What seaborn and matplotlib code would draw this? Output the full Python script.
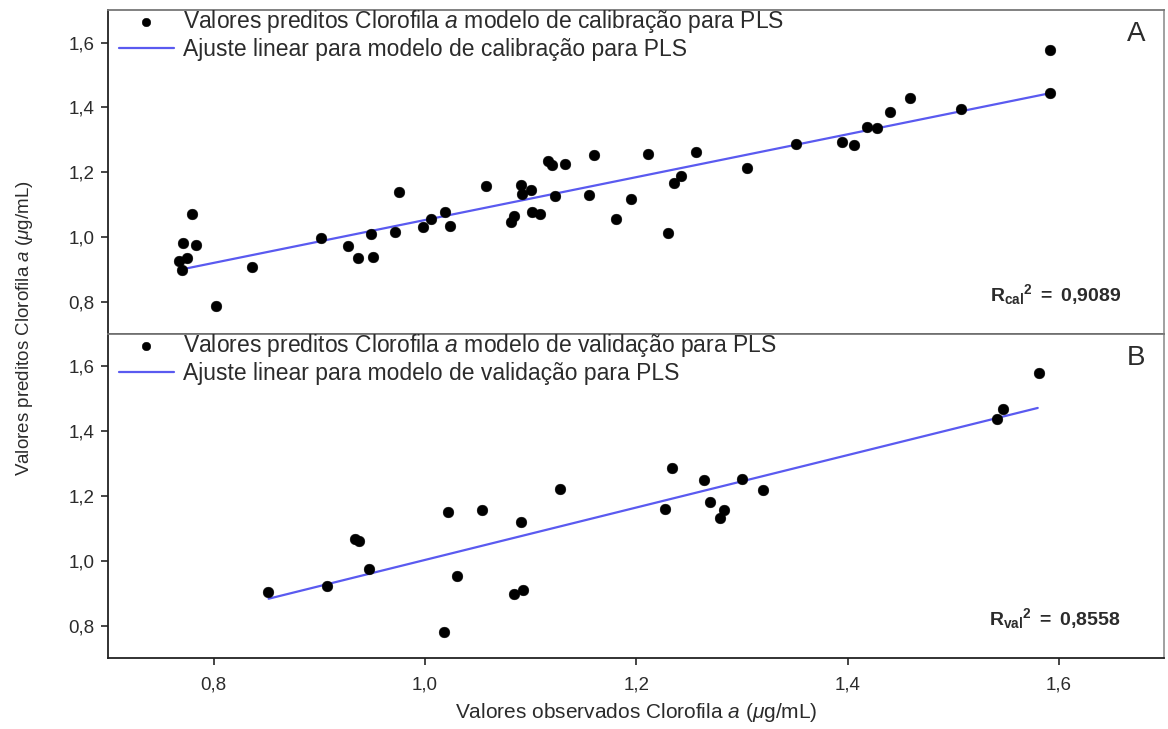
import matplotlib
matplotlib.use("Agg")
import matplotlib.pyplot as plt
from matplotlib.ticker import FuncFormatter
import seaborn as sns
import pandas as pd

# ---- data ----
cal_obs = [0.767, 0.770, 0.775, 0.771, 0.783, 0.779, 0.836, 0.802, 0.902, 0.927,
           0.937, 0.951, 0.949, 0.975, 0.972, 0.998, 1.006, 1.019, 1.024, 1.058,
           1.081, 1.084, 1.101, 1.109, 1.091, 1.092, 1.100, 1.123, 1.116, 1.120,
           1.133, 1.160, 1.155, 1.181, 1.195, 1.211, 1.230, 1.236, 1.242, 1.257,
           1.305, 1.351, 1.395, 1.406, 1.418, 1.428, 1.440, 1.459, 1.507, 1.592,
           1.592]
cal_pred = [0.927, 0.899, 0.935, 0.982, 0.974, 1.072, 0.906, 0.788, 0.996, 0.973,
            0.934, 0.937, 1.009, 1.139, 1.015, 1.030, 1.054, 1.077, 1.033, 1.157,
            1.047, 1.064, 1.077, 1.072, 1.159, 1.133, 1.144, 1.126, 1.234, 1.222,
            1.226, 1.253, 1.129, 1.056, 1.117, 1.257, 1.012, 1.167, 1.188, 1.262,
            1.213, 1.286, 1.293, 1.283, 1.339, 1.335, 1.386, 1.430, 1.394, 1.577,
            1.444]
cal_fit_x = [0.770, 1.592]
cal_fit_y = [0.900, 1.444]

val_obs = [0.851, 0.907, 0.934, 0.938, 0.947, 1.022, 1.018, 1.030, 1.054, 1.084,
           1.093, 1.091, 1.128, 1.227, 1.234, 1.264, 1.270, 1.279, 1.283, 1.300,
           1.320, 1.541, 1.547, 1.581]
val_pred = [0.903, 0.921, 1.066, 1.062, 0.976, 1.150, 0.779, 0.952, 1.158, 0.898,
            0.911, 1.119, 1.222, 1.161, 1.287, 1.249, 1.183, 1.132, 1.158, 1.254,
            1.218, 1.437, 1.468, 1.579]
val_fit_x = [0.852, 1.580]
val_fit_y = [0.883, 1.472]

xticks = [0.8, 1.0, 1.2, 1.4, 1.6]
yticks = [0.8, 1.0, 1.2, 1.4, 1.6]

labels_cal = [r"Valores preditos Clorofila $\it{a}$ modelo de calibração para PLS",
              "Ajuste linear para modelo de calibração para PLS"]
labels_val = [r"Valores preditos Clorofila $\it{a}$ modelo de validação para PLS",
              "Ajuste linear para modelo de validação para PLS"]
r2_cal = r"$\mathbf{R_{cal}}^{\mathbf{2}}\mathbf{\ =\ 0{,}9089}$"
r2_val = r"$\mathbf{R_{val}}^{\mathbf{2}}\mathbf{\ =\ 0{,}8558}$"
panel_letters = ["A", "B"]

# ---- style ----
sns.set_style("ticks")
plt.rcParams["font.family"] = ["Liberation Sans", "DejaVu Sans"]
plt.rcParams["mathtext.fontset"] = "custom"
plt.rcParams["mathtext.rm"] = "Liberation Sans"
plt.rcParams["mathtext.it"] = "Liberation Sans:italic"
plt.rcParams["mathtext.bf"] = "Liberation Sans:bold"

LINE_COLOR = "#5a5af0"
TEXT_COLOR = "#2b2b2b"

fig, axes = plt.subplots(2, 1, figsize=(11.68, 7.29), dpi=100, sharex=True,
                         gridspec_kw={"hspace": 0})
fig.subplots_adjust(left=0.0925, right=0.997, top=0.986, bottom=0.0974)

panels = [
    (cal_obs, cal_pred, cal_fit_x, cal_fit_y, labels_cal, r2_cal),
    (val_obs, val_pred, val_fit_x, val_fit_y, labels_val, r2_val),
]

comma = FuncFormatter(lambda v, _: f"{v:.1f}".replace(".", ","))

for i, (ax, (xo, yp, fx, fy, labs, r2)) in enumerate(zip(axes, panels)):
    df = pd.DataFrame({"obs": xo, "pred": yp})
    dfit = pd.DataFrame({"x": fx, "y": fy})
    sns.lineplot(data=dfit, x="x", y="y", ax=ax, color=LINE_COLOR, lw=1.6,
                 label=labs[1], zorder=2)
    sns.scatterplot(data=df, x="obs", y="pred", ax=ax, color="black", s=60,
                    edgecolor="black", linewidth=0.3, label=labs[0], zorder=3)
    ax.set_xlim(0.70, 1.70)
    ax.set_ylim(0.70, 1.70)
    ax.set_yticks(yticks)
    ax.set_xticks(xticks)
    ax.yaxis.set_major_formatter(comma)
    ax.xaxis.set_major_formatter(comma)
    ax.set_ylabel("")
    ax.set_xlabel("")
    for sp in ax.spines.values():
        sp.set_visible(True)
        sp.set_color("#222222")
        sp.set_linewidth(1.3)
    ax.spines["right"].set_color("#999999")
    ax.spines["top"].set_color("#777777")
    ax.tick_params(axis="y", direction="out", length=5, width=1.2,
                   labelsize=13.5, labelcolor=TEXT_COLOR, right=False, pad=5)
    ax.tick_params(axis="x", direction="out", length=5, width=1.2,
                   labelsize=13.5, labelcolor=TEXT_COLOR, top=False, pad=8)
    handles, hl = ax.get_legend_handles_labels()
    order = [hl.index(labs[0]), hl.index(labs[1])]
    ax.legend([handles[j] for j in order], [hl[j] for j in order],
              loc="upper left", bbox_to_anchor=(0.006, 1.02), frameon=False,
              fontsize=16.5, handlelength=2.4, handletextpad=0.4,
              labelspacing=0.12, borderaxespad=0.0, borderpad=0.2,
              markerscale=0.8)
    for t in ax.get_legend().get_texts():
        t.set_color(TEXT_COLOR)
    ax.text(0.973, 0.925, panel_letters[i], transform=ax.transAxes,
            fontsize=20, color=TEXT_COLOR, ha="center", va="center")
    ax.text(0.959, 0.122, r2, transform=ax.transAxes, fontsize=14,
            color=TEXT_COLOR, ha="right", va="center")

axes[0].tick_params(axis="x", bottom=False, labelbottom=False)
axes[1].set_xlabel(r"Valores observados Clorofila $\it{a}$ ($\mu$g/mL)",
                   fontsize=15, color=TEXT_COLOR, labelpad=6)
fig.text(0.021, 0.55, r"Valores preditos Clorofila $\it{a}$ ($\mu$g/mL)",
         rotation=90, ha="center", va="center", fontsize=13.5, color=TEXT_COLOR)

fig.savefig("out.png", dpi=100)
